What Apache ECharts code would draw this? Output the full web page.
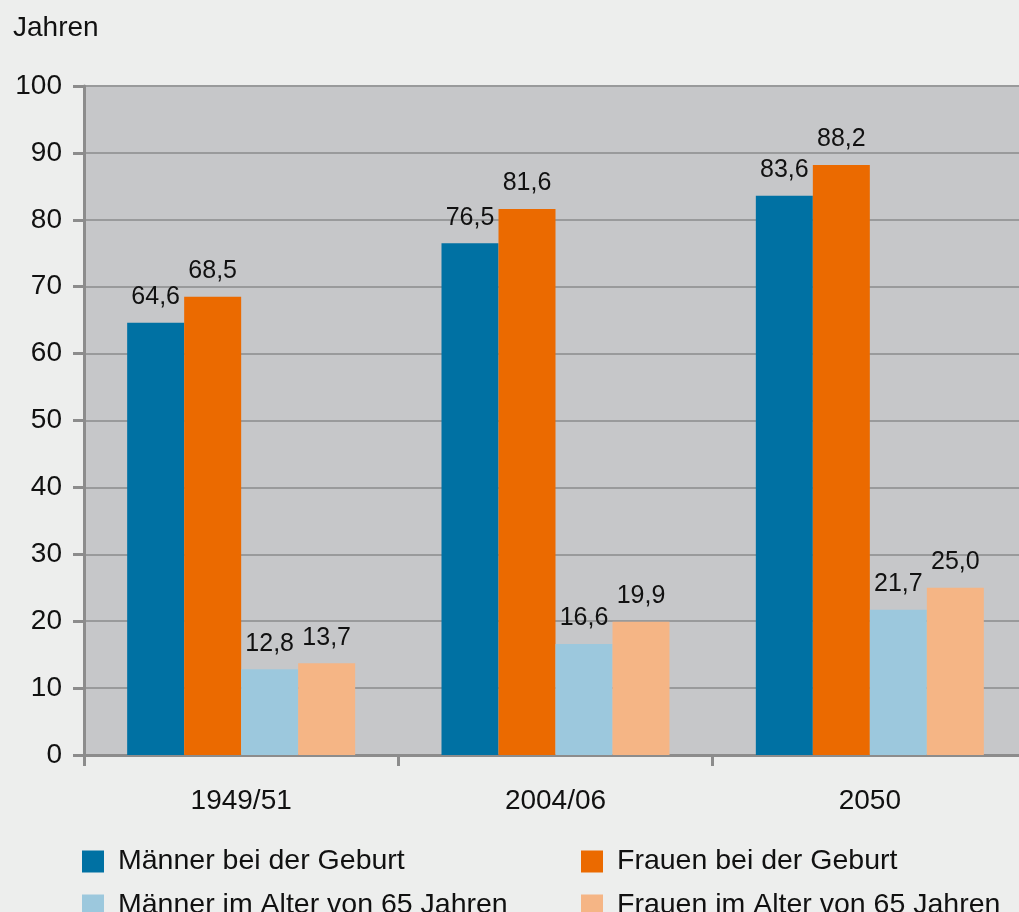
<!DOCTYPE html>
<html>
<head>
<meta charset="utf-8">
<script src="https://cdn.jsdelivr.net/npm/echarts@6/dist/echarts.min.js"></script>
<style>
html, body { margin: 0; padding: 0; background: #edeeed; overflow: hidden; }
#echart { width: 1027px; height: 912px; }
</style>
</head>
<body>
<div id="echart"></div>
<script>
var categories = ['1949/51', '2004/06', '2050'];
var maennerGeburt = [64.6, 76.5, 83.6];
var frauenGeburt = [68.5, 81.6, 88.2];
var maenner65 = [12.8, 16.6, 21.7];
var frauen65 = [13.7, 19.9, 25.0];
var seriesNames = ['Männer bei der Geburt', 'Frauen bei der Geburt', 'Männer im Alter von 65 Jahren', 'Frauen im Alter von 65 Jahren'];
var colors = ['#0071a3', '#eb6a00', '#9cc8dd', '#f5b585'];
var yTicks = [0, 10, 20, 30, 40, 50, 60, 70, 80, 90, 100];

var myChart = echarts.init(document.getElementById('echart'));
var font = 'Liberation Sans, Arial, sans-serif';

function barSeries(name, data, color) {
    return {
        name: name,
        type: 'bar',
        data: data,
        barWidth: 57,
        barGap: '0%',
        itemStyle: { color: color },
        label: {
            show: true,
            position: 'top',
            distance: 13,
            color: '#111',
            fontSize: 25,
            fontFamily: font,
            formatter: function (p) { return p.value.toFixed(1).replace('.', ','); }
        }
    };
}

function legendAt(name, left, top) {
    return {
        data: [name],
        left: left,
        top: top,
        padding: 0,
        icon: 'rect',
        itemWidth: 22,
        itemHeight: 22,
        selectedMode: false,
        textStyle: { fontSize: 28.5, fontFamily: font, color: '#111', padding: [0, 0, 0, 9] }
    };
}

var option = {
    backgroundColor: '#edeeed',
    animation: false,
    title: {
        text: 'Jahren',
        left: 13,
        top: 14,
        padding: 0,
        textStyle: { fontSize: 28, fontWeight: 'normal', fontFamily: font, color: '#111' }
    },
    legend: [
        legendAt(seriesNames[0], 82, 847),
        legendAt(seriesNames[1], 581, 847),
        legendAt(seriesNames[2], 82, 891),
        legendAt(seriesNames[3], 581, 891)
    ],
    grid: {
        left: 84, right: 0, top: 86, bottom: 157,
        show: true, backgroundColor: '#c6c7c9', borderWidth: 0
    },
    xAxis: {
        type: 'category',
        data: categories,
        axisLine: { lineStyle: { color: '#8c8c8c', width: 3 } },
        axisTick: { show: true, length: 11, lineStyle: { color: '#8c8c8c', width: 3 } },
        axisLabel: { fontSize: 28, fontFamily: font, color: '#111', margin: 32 }
    },
    yAxis: {
        type: 'value',
        min: yTicks[0],
        max: yTicks[yTicks.length - 1],
        interval: 10,
        axisLine: { show: true, lineStyle: { color: '#8c8c8c', width: 3 } },
        axisTick: { show: true, length: 11, lineStyle: { color: '#8c8c8c', width: 3 } },
        axisLabel: { fontSize: 28, fontFamily: font, color: '#111', margin: 22, padding: [9, 0, 0, 0] },
        splitLine: { lineStyle: { color: '#999a9b', width: 2 } }
    },
    series: [
        barSeries(seriesNames[0], maennerGeburt, colors[0]),
        barSeries(seriesNames[1], frauenGeburt, colors[1]),
        barSeries(seriesNames[2], maenner65, colors[2]),
        barSeries(seriesNames[3], frauen65, colors[3])
    ]
};

myChart.setOption(option);
</script>
</body>
</html>
